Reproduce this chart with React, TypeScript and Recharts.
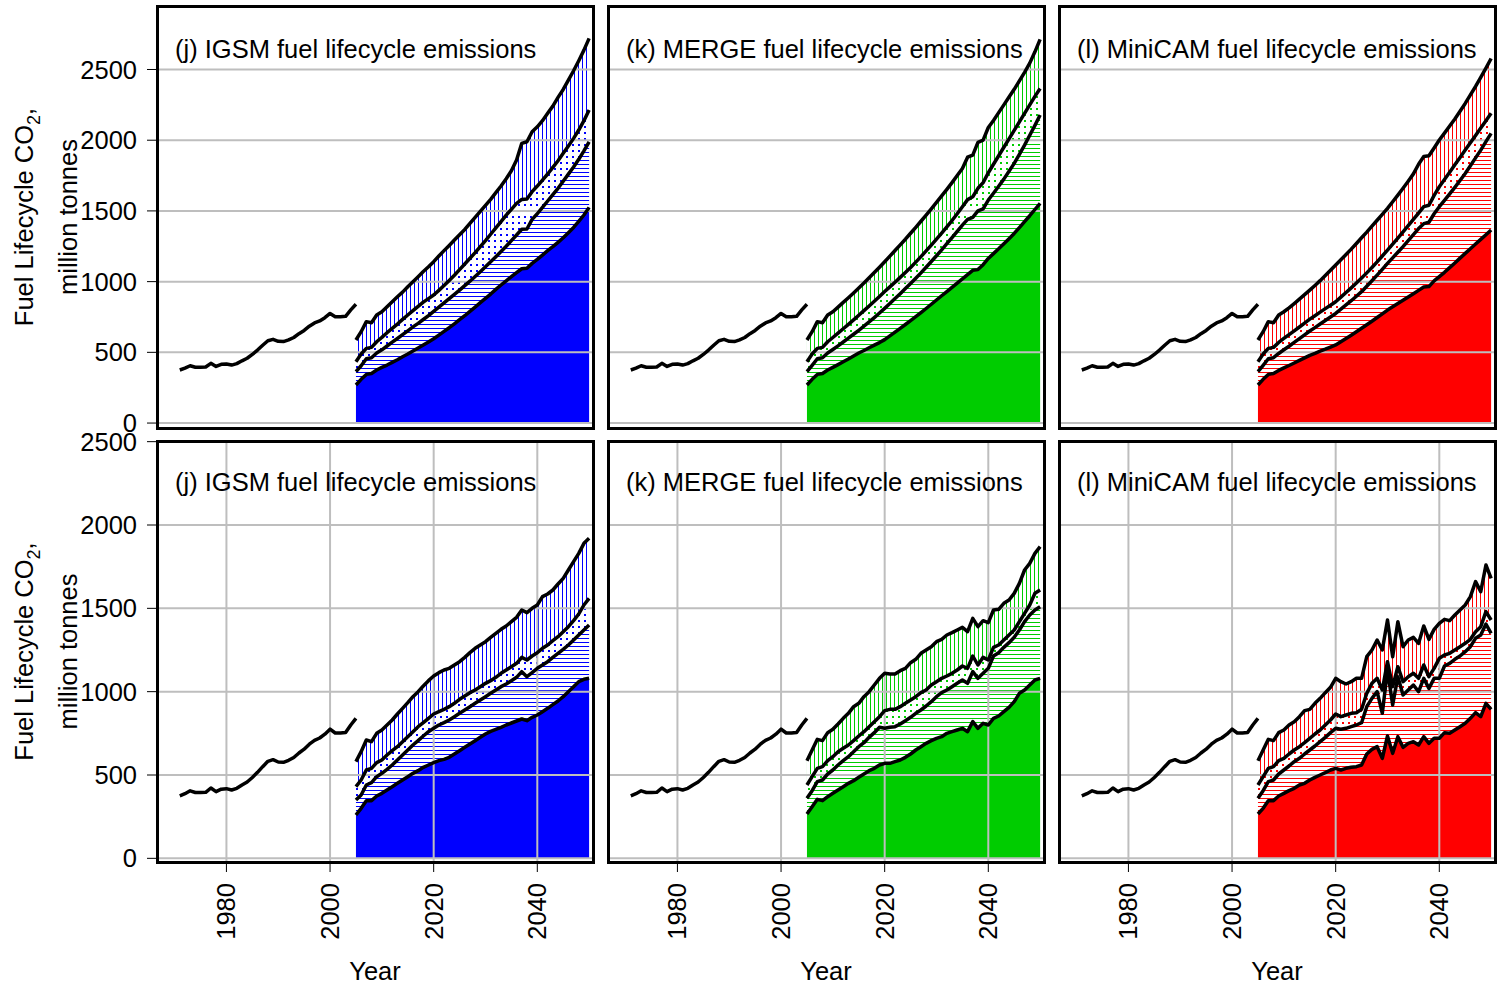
import React from "react";
import { ComposedChart, Area, Line, XAxis, YAxis, CartesianGrid } from "recharts";

// historical emissions, shared by every panel
const histYears = [
  1971, 1972, 1973, 1974, 1975, 1976, 1977, 1978, 1979, 1980,
  1981, 1982, 1983, 1984, 1985, 1986, 1987, 1988, 1989, 1990,
  1991, 1992, 1993, 1994, 1995, 1996, 1997, 1998, 1999, 2000,
  2001, 2002, 2003, 2004, 2005,
];
const histCO2 = [
  375, 388, 405, 395, 395, 396, 422, 400, 415, 418,
  410, 420, 440, 458, 485, 516, 550, 582, 592, 578,
  576, 588, 605, 632, 655, 685, 708, 722, 745, 775,
  752, 752, 755, 800, 840,
];

const projYears = [
  2005, 2006, 2007, 2008, 2009, 2010, 2011, 2012, 2013, 2014,
  2015, 2016, 2017, 2018, 2019, 2020, 2021, 2022, 2023, 2024,
  2025, 2026, 2027, 2028, 2029, 2030, 2031, 2032, 2033, 2034,
  2035, 2036, 2037, 2038, 2039, 2040, 2041, 2042, 2043, 2044,
  2045, 2046, 2047, 2048, 2049, 2050,
];

// upper row: 1 = lowest line ... 4 = highest line
const igsmA1 = [269, 309, 344, 351, 375, 394, 410, 429, 448, 469, 488, 509, 530, 552, 573, 596, 622, 648, 674, 702, 731, 759, 790, 820, 851, 881, 912, 945, 976, 1006, 1035, 1063, 1091, 1094, 1129, 1157, 1188, 1219, 1247, 1278, 1310, 1346, 1383, 1426, 1471, 1525];
const igsmA2 = [363, 405, 455, 462, 495, 518, 545, 572, 598, 625, 652, 680, 705, 732, 760, 790, 820, 850, 880, 910, 940, 972, 1003, 1036, 1070, 1105, 1140, 1176, 1213, 1250, 1290, 1330, 1370, 1372, 1440, 1480, 1525, 1570, 1615, 1660, 1710, 1760, 1810, 1865, 1925, 1989];
const igsmA3 = [434, 488, 528, 535, 575, 606, 639, 669, 700, 733, 764, 795, 825, 855, 880, 905, 938, 972, 1008, 1045, 1085, 1125, 1165, 1205, 1248, 1290, 1335, 1380, 1425, 1470, 1511, 1553, 1581, 1585, 1636, 1676, 1718, 1761, 1808, 1855, 1907, 1959, 2013, 2072, 2138, 2213];
const igsmA4 = [587, 646, 717, 709, 764, 787, 823, 858, 893, 926, 964, 999, 1035, 1072, 1105, 1141, 1181, 1219, 1256, 1294, 1332, 1369, 1412, 1454, 1497, 1539, 1582, 1629, 1676, 1728, 1784, 1860, 1978, 1989, 2060, 2095, 2138, 2190, 2241, 2303, 2359, 2425, 2491, 2562, 2637, 2720];

const mergeA1 = [269, 309, 344, 351, 375, 394, 413, 433, 453, 474, 495, 513, 532, 551, 569, 590, 616, 643, 670, 697, 724, 752, 781, 810, 840, 870, 900, 930, 960, 990, 1020, 1050, 1080, 1085, 1120, 1164, 1198, 1232, 1268, 1304, 1341, 1382, 1424, 1466, 1510, 1553];
const mergeA2 = [363, 408, 455, 462, 495, 520, 546, 573, 600, 628, 656, 685, 715, 746, 778, 811, 845, 880, 915, 951, 987, 1024, 1062, 1102, 1142, 1183, 1225, 1268, 1312, 1356, 1400, 1440, 1455, 1500, 1515, 1577, 1625, 1675, 1725, 1780, 1836, 1900, 1965, 2035, 2105, 2178];
const mergeA3 = [434, 488, 528, 535, 575, 605, 636, 667, 698, 730, 762, 795, 828, 861, 895, 930, 963, 996, 1030, 1065, 1100, 1138, 1177, 1217, 1258, 1300, 1343, 1387, 1432, 1480, 1530, 1580, 1600, 1660, 1700, 1770, 1830, 1890, 1950, 2010, 2070, 2130, 2190, 2250, 2310, 2366];
const mergeA4 = [587, 646, 717, 709, 764, 787, 820, 853, 886, 920, 955, 990, 1027, 1064, 1102, 1141, 1180, 1220, 1260, 1300, 1342, 1384, 1427, 1470, 1514, 1560, 1606, 1652, 1700, 1750, 1800, 1880, 1895, 1985, 2000, 2090, 2140, 2195, 2250, 2305, 2360, 2420, 2480, 2545, 2625, 2713];

const minicamA1 = [269, 309, 344, 351, 372, 390, 407, 425, 443, 461, 479, 493, 508, 522, 537, 552, 575, 598, 621, 645, 670, 695, 720, 746, 772, 799, 822, 845, 868, 891, 914, 938, 962, 965, 1005, 1035, 1066, 1099, 1132, 1166, 1200, 1233, 1266, 1299, 1332, 1365];
const minicamA2 = [363, 408, 455, 462, 492, 518, 543, 570, 597, 624, 651, 675, 700, 725, 750, 775, 805, 835, 865, 897, 929, 967, 1006, 1046, 1087, 1129, 1168, 1208, 1248, 1290, 1332, 1375, 1410, 1420, 1480, 1530, 1575, 1620, 1667, 1715, 1765, 1820, 1875, 1930, 1990, 2048];
const minicamA3 = [434, 488, 528, 535, 570, 598, 625, 652, 679, 707, 735, 759, 784, 809, 833, 858, 890, 923, 956, 990, 1025, 1062, 1100, 1140, 1181, 1223, 1265, 1308, 1352, 1396, 1440, 1485, 1530, 1540, 1610, 1671, 1722, 1774, 1826, 1878, 1930, 1982, 2034, 2086, 2138, 2190];
const minicamA4 = [587, 646, 717, 709, 764, 787, 815, 845, 876, 908, 940, 973, 1007, 1043, 1080, 1117, 1154, 1192, 1230, 1270, 1310, 1350, 1392, 1434, 1476, 1518, 1565, 1612, 1660, 1710, 1762, 1830, 1885, 1890, 1945, 2001, 2050, 2100, 2150, 2205, 2260, 2320, 2380, 2445, 2510, 2578];

// lower row
const igsmB1 = [260, 300, 346, 346, 374, 390, 410, 430, 450, 470, 490, 510, 526, 546, 560, 574, 586, 594, 606, 626, 646, 666, 686, 706, 726, 746, 762, 774, 786, 800, 812, 824, 836, 826, 846, 860, 880, 900, 922, 944, 970, 1000, 1030, 1060, 1074, 1080];
const igsmB2 = [350, 380, 440, 454, 490, 510, 534, 560, 590, 620, 650, 680, 706, 734, 760, 780, 800, 814, 830, 850, 870, 890, 910, 930, 950, 970, 990, 1010, 1030, 1046, 1066, 1086, 1120, 1090, 1114, 1140, 1160, 1180, 1206, 1230, 1254, 1280, 1310, 1340, 1370, 1400];
const igsmB3 = [430, 470, 530, 540, 574, 590, 620, 646, 670, 700, 730, 760, 790, 814, 840, 866, 880, 894, 910, 930, 954, 974, 994, 1010, 1030, 1050, 1066, 1086, 1110, 1130, 1150, 1170, 1206, 1190, 1214, 1234, 1260, 1280, 1306, 1330, 1360, 1390, 1426, 1466, 1520, 1560];
const igsmB4 = [580, 640, 710, 700, 750, 770, 800, 830, 866, 900, 934, 970, 1000, 1034, 1066, 1094, 1114, 1130, 1140, 1160, 1180, 1206, 1234, 1260, 1280, 1300, 1326, 1350, 1374, 1394, 1420, 1446, 1490, 1474, 1500, 1520, 1570, 1586, 1610, 1646, 1680, 1730, 1780, 1830, 1890, 1920];

const mergeB1 = [266, 310, 354, 346, 370, 390, 410, 430, 450, 466, 486, 506, 526, 540, 560, 570, 570, 580, 590, 606, 626, 650, 670, 690, 706, 720, 730, 750, 760, 770, 780, 760, 820, 780, 810, 800, 840, 854, 880, 906, 940, 990, 1010, 1040, 1070, 1080];
const mergeB2 = [360, 406, 460, 470, 506, 530, 560, 586, 610, 640, 670, 694, 726, 754, 786, 780, 786, 790, 806, 826, 846, 870, 890, 914, 940, 970, 994, 1010, 1030, 1050, 1070, 1050, 1120, 1080, 1110, 1140, 1214, 1234, 1266, 1294, 1326, 1370, 1420, 1460, 1490, 1510];
const mergeB3 = [440, 490, 540, 550, 586, 610, 640, 660, 680, 706, 734, 760, 790, 820, 850, 886, 894, 894, 910, 930, 950, 970, 994, 1010, 1040, 1060, 1080, 1094, 1110, 1130, 1154, 1140, 1214, 1160, 1206, 1190, 1266, 1280, 1310, 1340, 1370, 1420, 1470, 1520, 1590, 1610];
const mergeB4 = [586, 650, 714, 706, 754, 774, 806, 840, 870, 910, 930, 970, 1000, 1040, 1080, 1110, 1106, 1106, 1126, 1140, 1174, 1194, 1230, 1250, 1270, 1300, 1314, 1340, 1354, 1370, 1386, 1360, 1440, 1390, 1426, 1414, 1490, 1494, 1530, 1550, 1590, 1650, 1730, 1770, 1830, 1870];

const minicamB1 = [266, 300, 346, 346, 374, 390, 406, 420, 440, 450, 470, 486, 500, 514, 530, 540, 530, 540, 546, 550, 560, 626, 654, 670, 600, 734, 630, 730, 666, 690, 700, 680, 730, 690, 720, 720, 754, 750, 770, 790, 810, 840, 874, 850, 930, 894];
const minicamB2 = [360, 406, 460, 470, 506, 530, 554, 580, 600, 626, 650, 674, 700, 726, 754, 780, 774, 780, 790, 800, 814, 910, 960, 1000, 870, 1130, 920, 1090, 980, 1010, 1040, 1000, 1080, 1020, 1080, 1080, 1154, 1170, 1194, 1214, 1240, 1270, 1320, 1340, 1406, 1350];
const minicamB3 = [440, 490, 540, 550, 586, 600, 626, 650, 670, 694, 720, 746, 770, 800, 830, 866, 850, 860, 870, 874, 894, 990, 1050, 1080, 1010, 1180, 1030, 1150, 1060, 1090, 1110, 1080, 1160, 1090, 1140, 1200, 1220, 1230, 1250, 1270, 1290, 1314, 1360, 1390, 1480, 1430];
const minicamB4 = [586, 650, 714, 706, 754, 770, 800, 820, 850, 886, 894, 930, 960, 994, 1026, 1080, 1060, 1046, 1060, 1080, 1080, 1210, 1250, 1310, 1250, 1430, 1210, 1420, 1270, 1310, 1326, 1290, 1394, 1314, 1374, 1410, 1434, 1426, 1460, 1490, 1520, 1570, 1660, 1600, 1760, 1680];

const xTicks = [1980, 2000, 2020, 2040];
const yTicks = [0, 500, 1000, 1500, 2000, 2500];

const FONT = '"Liberation Sans", Arial, Helvetica, sans-serif';
const FS = 25.5;
const plotLeft = [157, 608, 1059];
const plotWidth = 436;
const rowTop = [6, 441];
const rowHeight = [422, 421];
const rowDomain: [number, number][] = [[-35, 2949], [-22, 2504]];
const xDomain: [number, number] = [1966.6, 2050.75];
const PAD_TOP = 20;
const PAD_BOTTOM = 10;

const panels = [
  { id: "igsmA", title: "(j) IGSM fuel lifecycle emissions", color: "#0000ff", row: 0, col: 0, lines: [igsmA1, igsmA2, igsmA3, igsmA4] },
  { id: "mergeA", title: "(k) MERGE fuel lifecycle emissions", color: "#00cc00", row: 0, col: 1, lines: [mergeA1, mergeA2, mergeA3, mergeA4] },
  { id: "minicamA", title: "(l) MiniCAM fuel lifecycle emissions", color: "#ff0000", row: 0, col: 2, lines: [minicamA1, minicamA2, minicamA3, minicamA4] },
  { id: "igsmB", title: "(j) IGSM fuel lifecycle emissions", color: "#0000ff", row: 1, col: 0, lines: [igsmB1, igsmB2, igsmB3, igsmB4] },
  { id: "mergeB", title: "(k) MERGE fuel lifecycle emissions", color: "#00cc00", row: 1, col: 1, lines: [mergeB1, mergeB2, mergeB3, mergeB4] },
  { id: "minicamB", title: "(l) MiniCAM fuel lifecycle emissions", color: "#ff0000", row: 1, col: 2, lines: [minicamB1, minicamB2, minicamB3, minicamB4] },
];

const histRows = histYears.map((year, i) => ({ year, v: histCO2[i] }));

function YearTick(props: any) {
  const { x, y, payload } = props;
  return (
    <text x={x} y={y} dy="0.35em" textAnchor="end" transform={`rotate(-90, ${x}, ${y})`} fontSize={FS} fill="#000">
      {payload.value}
    </text>
  );
}

function axes(p: any, visible: boolean) {
  const showY = p.col === 0;
  const bottom = p.row === 1;
  return [
    <XAxis
      key="x"
      type="number"
      dataKey="year"
      domain={xDomain}
      allowDataOverflow
      ticks={xTicks}
      interval={0}
      height={bottom ? 120 : 12}
      axisLine={false}
      tickLine={visible ? { stroke: "#000", strokeWidth: 1 } : false}
      tickSize={10}
      tickMargin={11}
      tick={visible && bottom ? (t: any) => <YearTick {...t} /> : false}
      label={visible && bottom ? { value: "Year", position: "insideBottom", offset: 2, fontSize: FS, fill: "#000" } : undefined}
    />,
    <YAxis
      key="y"
      type="number"
      domain={rowDomain[p.row]}
      allowDataOverflow
      ticks={yTicks}
      interval={0}
      hide={!showY}
      width={showY ? 157 : 0}
      axisLine={false}
      tickLine={visible ? { stroke: "#000", strokeWidth: 1 } : false}
      tickSize={10}
      tickMargin={10}
      tick={visible ? { fontSize: FS, fill: "#000" } : false}
    />,
  ];
}

function Panel({ p }: { p: any }) {
  const yW = p.col === 0 ? 157 : 0;
  const xH = p.row === 1 ? 120 : 12;
  const width = plotWidth + yW;
  const height = PAD_TOP + rowHeight[p.row] + xH + PAD_BOTTOM;
  const chartLeft = plotLeft[p.col] - yW;
  const chartTop = rowTop[p.row] - PAD_TOP;
  const pos: React.CSSProperties = { position: "absolute", left: chartLeft, top: chartTop };
  const margin = { top: PAD_TOP, right: 0, bottom: PAD_BOTTOM, left: 0 };
  // keep the thin hatch marks on even page pixels
  const hy = Math.abs(chartTop) % 2 === 0 ? 2 : 1;
  const vx = Math.abs(chartLeft) % 2 === 0 ? 2 : 1;
  const proj = projYears.map((year, i) => ({
    year,
    l1: p.lines[0][i],
    l2: p.lines[1][i],
    l3: p.lines[2][i],
    l4: p.lines[3][i],
  }));
  const c = p.color;
  return (
    <>
      <div style={pos}>
        <ComposedChart width={width} height={height} margin={margin}>
          <defs>
            <pattern id={`hz-${p.id}`} patternUnits="userSpaceOnUse" width={8} height={4}>
              <rect x={0} y={0} width={8} height={4} fill="#ffffff" />
              <rect x={0} y={hy} width={8} height={1} fill={c} />
            </pattern>
            <pattern id={`vt-${p.id}`} patternUnits="userSpaceOnUse" width={4} height={8}>
              <rect x={0} y={0} width={4} height={8} fill="#ffffff" />
              <rect x={vx} y={0} width={1} height={8} fill={c} />
            </pattern>
            <pattern id={`dt-${p.id}`} patternUnits="userSpaceOnUse" width={6} height={6}>
              <rect x={0} y={0} width={6} height={6} fill="#ffffff" />
              <rect x={vx} y={hy} width={2} height={2} fill={c} />
            </pattern>
          </defs>
          {axes(p, false)}
          <Area data={proj} type="linear" dataKey={(d: any) => [0, d.l1]} fill={c} fillOpacity={1} stroke="none" dot={false} activeDot={false} isAnimationActive={false} />
          <Area data={proj} type="linear" dataKey={(d: any) => [d.l1, d.l2]} fill={`url(#hz-${p.id})`} fillOpacity={1} stroke="none" dot={false} activeDot={false} isAnimationActive={false} />
          <Area data={proj} type="linear" dataKey={(d: any) => [d.l2, d.l3]} fill={`url(#dt-${p.id})`} fillOpacity={1} stroke="none" dot={false} activeDot={false} isAnimationActive={false} />
          <Area data={proj} type="linear" dataKey={(d: any) => [d.l3, d.l4]} fill={`url(#vt-${p.id})`} fillOpacity={1} stroke="none" dot={false} activeDot={false} isAnimationActive={false} />
        </ComposedChart>
      </div>
      <div style={pos}>
        <ComposedChart width={width} height={height} margin={margin}>
          <CartesianGrid stroke="#bebebe" strokeWidth={2} />
          {axes(p, true)}
          <Line data={histRows} type="linear" dataKey="v" stroke="#000" strokeWidth={3.5} strokeLinejoin="round" dot={false} activeDot={false} isAnimationActive={false} />
          {["l1", "l2", "l3", "l4"].map((k) => (
            <Line key={k} data={proj} type="linear" dataKey={k} stroke="#000" strokeWidth={3.5} strokeLinejoin="round" dot={false} activeDot={false} isAnimationActive={false} />
          ))}
        </ComposedChart>
      </div>
      <div
        style={{
          position: "absolute",
          left: plotLeft[p.col] - 1.5,
          top: rowTop[p.row] - 1.5,
          width: plotWidth + 3,
          height: rowHeight[p.row] + 3,
          border: "3px solid #000",
          boxSizing: "border-box",
          pointerEvents: "none",
        }}
      />
    </>
  );
}

export default function App() {
  return (
    <div style={{ position: "relative", width: 1503, height: 986, background: "#fff", fontFamily: FONT, overflow: "hidden" }}>
      <style>{"body{margin:0}"}</style>
      {panels.map((p) => (
        <Panel key={p.id} p={p} />
      ))}
      <svg width={1503} height={986} style={{ position: "absolute", left: 0, top: 0, pointerEvents: "none" }} fontFamily={FONT}>
        {panels.map((p) => (
          <text key={p.id} x={plotLeft[p.col] + 18} y={rowTop[p.row] + (p.row === 0 ? 52 : 50)} fontSize={FS} fill="#000">
            {p.title}
          </text>
        ))}
        {[0, 1].map((r) => {
          const cy = rowTop[r] + rowHeight[r] / 2;
          return (
            <g key={r}>
              <text x={33} y={cy} transform={`rotate(-90, 33, ${cy})`} textAnchor="middle" fontSize={FS} fill="#000">
                Fuel Lifecycle CO<tspan fontSize={18} dy={7}>2</tspan>
                <tspan dy={-7}>,</tspan>
              </text>
              <text x={77} y={cy} transform={`rotate(-90, 77, ${cy})`} textAnchor="middle" fontSize={FS} fill="#000">
                million tonnes
              </text>
            </g>
          );
        })}
      </svg>
    </div>
  );
}
